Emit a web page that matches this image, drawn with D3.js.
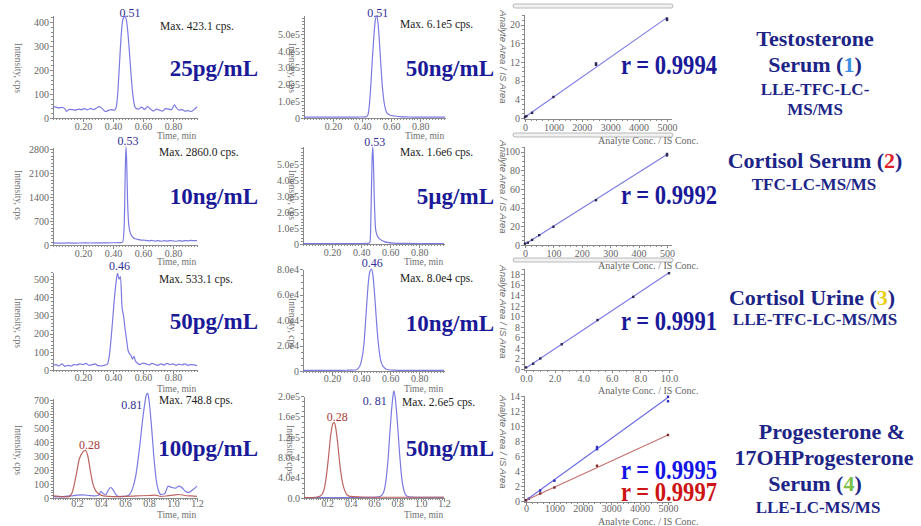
<!DOCTYPE html>
<meta charset="utf-8">
<style>
  body { margin: 0; background: #fff; }
  svg text { font-family: "Liberation Serif", "DejaVu Serif", serif; }
  .axis path, .axis line { stroke: #8a8a8a; fill: none; shape-rendering: crispEdges; }
  .axis text { fill: #666; font-size: 10px; font-family: "Liberation Serif", serif; }
  .lbl { fill: #707070; font-size: 9.5px; }
  .cal-lbl { fill: #666; font-size: 9.5px; font-style: italic; font-family: "Liberation Sans", Arial, sans-serif; }
  .maxl { fill: #222; font-size: 11.5px; }
  .conc { fill: #1a1a99; font-size: 23px; font-weight: bold; }
  .rval { font-size: 27px; font-weight: bold; }
  .right { font-weight: bold; fill: #1c2587; }
</style>
<body>
<script src="https://d3js.org/d3.v7.min.js"></script>
<script>

// ---------- chromatograms: [time (min), intensity (cps)] ----------
var testoLowTrace = [[0,40],[0.01,47],[0.02,45],[0.04,42],[0.06,44],[0.08,38],[0.09,28],[0.11,36],[0.13,35],[0.15,33],[0.17,37],[0.19,35],[0.21,39],[0.23,34],[0.25,40],[0.27,35],[0.29,42],[0.31,47],[0.33,38],[0.35,27],[0.37,32],[0.39,35],[0.41,33],[0.42,42],[0.43,90],[0.44,190],[0.45,300],[0.46,385],[0.47,418],[0.48,423],[0.49,405],[0.50,350],[0.51,270],[0.52,185],[0.53,110],[0.54,62],[0.55,42],[0.57,37],[0.59,45],[0.61,36],[0.63,47],[0.65,37],[0.67,29],[0.69,37],[0.71,33],[0.73,29],[0.75,39],[0.77,37],[0.79,35],[0.81,55],[0.82,45],[0.84,33],[0.86,35],[0.88,29],[0.90,31],[0.92,27],[0.94,35],[0.96,47]];
var testoHighTrace = [[0,5000],[0.1,5000],[0.2,5000],[0.3,5000],[0.4,6000],[0.43,8000],[0.44,20000],[0.45,80000],[0.46,200000],[0.47,350000],[0.48,480000],[0.49,580000],[0.50,610000],[0.51,560000],[0.52,440000],[0.53,300000],[0.54,180000],[0.55,100000],[0.56,55000],[0.57,30000],[0.59,18000],[0.62,12000],[0.66,8000],[0.72,6000],[0.8,5000],[0.9,5000],[0.97,5000]];
var cortSerumLowTrace = [[0,60],[0.05,55],[0.1,60],[0.15,55],[0.2,62],[0.25,58],[0.3,60],[0.35,62],[0.4,65],[0.45,70],[0.465,90],[0.475,600],[0.482,2200],[0.487,2860],[0.492,2300],[0.497,1300],[0.503,700],[0.51,450],[0.52,300],[0.53,240],[0.54,200],[0.56,170],[0.58,150],[0.6,140],[0.62,135],[0.64,120],[0.66,135],[0.68,115],[0.7,130],[0.72,110],[0.74,125],[0.76,115],[0.78,130],[0.8,120],[0.82,110],[0.84,125],[0.86,115],[0.88,130],[0.9,120],[0.92,135],[0.94,125],[0.96,130]];
var cortSerumHighTrace = [[0,3000],[0.2,3000],[0.4,3000],[0.45,4000],[0.46,10000],[0.465,80000],[0.47,300000],[0.475,520000],[0.48,610000],[0.485,500000],[0.49,300000],[0.495,160000],[0.50,90000],[0.51,55000],[0.52,38000],[0.54,24000],[0.56,15000],[0.58,10000],[0.62,6000],[0.7,4000],[0.8,3000],[0.97,3000]];
var cortUrineLowTrace = [[0,25],[0.02,30],[0.04,22],[0.06,34],[0.08,20],[0.1,26],[0.12,22],[0.14,30],[0.16,28],[0.18,34],[0.2,30],[0.22,36],[0.24,26],[0.26,28],[0.28,34],[0.3,24],[0.32,22],[0.34,26],[0.36,30],[0.37,50],[0.38,110],[0.39,200],[0.40,300],[0.41,400],[0.42,480],[0.43,533],[0.44,500],[0.45,515],[0.46,350],[0.47,300],[0.48,230],[0.49,170],[0.50,110],[0.51,90],[0.52,80],[0.53,60],[0.54,75],[0.55,50],[0.56,40],[0.58,30],[0.6,38],[0.62,34],[0.64,28],[0.66,36],[0.68,30],[0.7,26],[0.72,34],[0.74,28],[0.76,36],[0.78,30],[0.8,34],[0.82,26],[0.84,32],[0.86,28],[0.88,34],[0.9,26],[0.92,30],[0.94,28],[0.96,24]];
var cortUrineHighTrace = [[0,500],[0.2,500],[0.3,600],[0.36,800],[0.38,2000],[0.40,7000],[0.42,22000],[0.43,38000],[0.44,55000],[0.45,70000],[0.46,78000],[0.47,80000],[0.48,76000],[0.49,64000],[0.50,48000],[0.51,32000],[0.52,20000],[0.53,11000],[0.54,6000],[0.56,2500],[0.58,1200],[0.62,700],[0.7,500],[0.97,500]];
var progLowTrace = [[0,10],[0.05,8],[0.1,12],[0.15,15],[0.2,20],[0.25,22],[0.3,18],[0.35,15],[0.38,20],[0.4,45],[0.42,30],[0.44,25],[0.46,55],[0.48,75],[0.5,60],[0.52,30],[0.55,10],[0.6,12],[0.63,20],[0.66,60],[0.69,160],[0.72,350],[0.75,580],[0.78,740],[0.79,748],[0.8,700],[0.82,520],[0.84,300],[0.86,130],[0.88,50],[0.9,25],[0.93,30],[0.96,85],[0.99,75],[1.02,70],[1.05,85],[1.08,70],[1.1,50],[1.13,40],[1.16,55],[1.2,85]];
var ohpLowTrace = [[0,15],[0.05,12],[0.1,8],[0.13,10],[0.16,40],[0.19,150],[0.22,280],[0.25,330],[0.27,340],[0.29,300],[0.31,200],[0.33,110],[0.35,60],[0.38,30],[0.42,15],[0.5,10],[0.6,12],[0.7,15],[0.8,18],[0.85,20],[0.9,12],[0.95,15],[1.0,20],[1.05,25],[1.1,18],[1.15,15],[1.2,12]];
var progHighTrace = [[0,1000],[0.2,1000],[0.4,1000],[0.6,1500],[0.65,3000],[0.68,10000],[0.70,30000],[0.72,75000],[0.74,140000],[0.76,195000],[0.77,210000],[0.78,200000],[0.80,150000],[0.82,85000],[0.84,35000],[0.86,12000],[0.88,4000],[0.92,2000],[1.0,1500],[1.2,1500]];
var ohpHighTrace = [[0,1000],[0.1,1500],[0.14,4000],[0.17,15000],[0.19,40000],[0.21,80000],[0.23,125000],[0.25,147000],[0.26,148000],[0.27,140000],[0.29,105000],[0.31,60000],[0.33,30000],[0.35,14000],[0.37,6000],[0.4,3000],[0.5,2000],[0.7,1500],[0.9,1500],[1.2,1500]];

// ---------- calibration: [analyte conc / IS conc, analyte area / IS area] ----------
var testoCalPts = [[0,0.2],[50,0.4],[250,1.1],[1000,4.5],[2500,11.4],[2500,11.7],[5000,21.0],[5000,21.3]];
var testoCalFit = [[0,0.2],[5000,21.5]];
var cortSerumCalPts = [[0,1.5],[10,2.5],[25,5.5],[50,10.5],[100,19.5],[250,48],[500,96],[500,97.5]];
var cortSerumCalFit = [[0,0.8],[500,97]];
var cortUrineCalPts = [[0,0.3],[0.5,1.0],[1,2.0],[2.5,4.7],[5,9.3],[7.5,13.7],[10,18.2]];
var cortUrineCalFit = [[0,0.2],[10,18.3]];
var progCalPts = [[0,0.1],[100,0.3],[500,1.4],[1000,2.7],[2500,6.9],[2500,7.2],[5000,13.3],[5000,13.9]];
var progCalFit = [[0,0.1],[5000,13.8]];
var ohpCalPts = [[0,0.1],[500,1.0],[1000,1.8],[2500,4.7],[5000,8.8]];
var ohpCalFit = [[0,0.1],[5000,8.8]];

// ---------- ticks ----------
var timeTicksA = [0.2,0.4,0.6,0.8];
var timeTicksB = [0.2,0.4,0.6,0.8,1.0,1.2];
var cpsTicksTesto = [0,100,200,300,400];
var cpsTicksCortS = [0,700,1400,2100,2800];
var cpsTicksCortU = [0,100,200,300,400,500];
var cpsTicksProg = [0,100,200,300,400,500,600,700];
var eTicksHigh = [0,1e5,2e5,3e5,4e5,5e5];
var eTicksUrine = [0,2e4,4e4,6e4,8e4];
var eTicksProg = [0,4e4,8e4,1.2e5,1.6e5,2e5];
var calXTicksA = [0,1000,2000,3000,4000,5000];
var calXTicksB = [0,100,200,300,400,500];
var calXTicksC = [0,2,4,6,8,10];
var calYTicksA = [0,4,8,12,16,20];
var calYTicksB = [0,20,40,60,80,100];
var calYTicksC = [0,2,4,6,8,10,12,14,16,18];
var calYTicksD = [0,2,4,6,8,10,12,14];

// ---------- texts ----------
var peakLabels = [["0.51"],["0.51"],["0.53"],["0.53"],["0.46"],["0.46"],["0.81","0.28"],["0. 81","0.28"]];
var maxLabels = ["Max. 423.1 cps.","Max.  6.1e5 cps.","Max. 2860.0 cps.","Max. 1.6e6 cps.","Max. 533.1 cps.","Max.  8.0e4 cps.","Max.  748.8 cps.","Max. 2.6e5 cps."];
var concLabels = ["25pg/mL","50ng/mL","10ng/mL","5\u00b5g/mL","50pg/mL","10ng/mL","100pg/mL","50ng/mL"];
var rLabels = ["r = 0.9994","r = 0.9992","r = 0.9991","r = 0.9995","r = 0.9997"];

var BLUE = "#6b6be0", RED = "#b65350", NAVY = "#1a1a99";

var fmtInt = d3.format("d");
var fmt2 = d3.format(".2f");
var fmt1 = d3.format(".1f");
var fmtE = function(v) { return v === 0 ? "0" : d3.format(".1e")(v).replace("+", ""); };
var fmtE0 = function(v) { return v === 0 ? "0.0" : d3.format(".1e")(v).replace("+", ""); };

var svg = d3.select("body").append("svg").attr("width", 921).attr("height", 526);

// window frame bars of the calibration screenshots
[4, 133, 258].forEach(function(yy) {
  svg.append("rect").attr("x", 513).attr("y", yy).attr("width", 160).attr("height", 4)
    .attr("rx", 2).attr("fill", "#f2f2f2").attr("stroke", "#a8a8a8").attr("stroke-width", 0.8);
});

// panel layouts (positions only)
var chromLayout = [
  {left:53, right:197, base:118, top:15, tDom:[0,0.96], yDom:[0,429], pad:1, lab:[[5,1]], maxXY:[160,30], concXY:[258,76], textY:[139,68], intX:15},
  {left:304, right:445, base:118, top:15, tDom:[0,0.97], yDom:[0,6.15e5], pad:1, lab:[[1,1]], maxXY:[400,28], concXY:[494,76], textY:[139,68], intX:289},
  {left:53, right:197, base:245, top:147, tDom:[0,0.96], yDom:[0,2858], pad:1, lab:[[2,-2]], maxXY:[159,156], concXY:[258,204], textY:[265,195], intX:15},
  {left:303, right:444, base:244, top:146, tDom:[0,0.97], yDom:[0,6.15e5], pad:1, lab:[[2,-1]], maxXY:[400,156], concXY:[494,204], textY:[265,195], intX:289},
  {left:53, right:197, base:370, top:272, tDom:[0,0.96], yDom:[0,540], pad:0, lab:[[2,-3]], maxXY:[159,283], concXY:[258,329], textY:[392,323], intX:15},
  {left:303, right:444, base:371, top:269, tDom:[0,0.97], yDom:[0,8e4], pad:0, lab:[[1,-2]], maxXY:[400,282], concXY:[494,331], textY:[392,323], intX:289},
  {left:53, right:197, base:498, top:398, tDom:[0,1.2], yDom:[0,714], pad:-2, lab:[[-16,16],[4,-1]], maxXY:[159,404], concXY:[258,456], textY:[518,450], intX:15},
  {left:304, right:444, base:498, top:396, tDom:[0,1.2], yDom:[0,2e5], pad:-2, lab:[[-19,14],[3,-2]], maxXY:[402,406], concXY:[494,456], textY:[518,450], intX:287}
];
var chromData = [
  {traces:[[testoLowTrace,BLUE]], xt:timeTicksA, xf:fmt2, yt:cpsTicksTesto, yf:fmtInt},
  {traces:[[testoHighTrace,BLUE]], xt:timeTicksA, xf:fmt2, yt:eTicksHigh, yf:fmtE},
  {traces:[[cortSerumLowTrace,BLUE]], xt:timeTicksA, xf:fmt2, yt:cpsTicksCortS, yf:fmtInt},
  {traces:[[cortSerumHighTrace,BLUE]], xt:timeTicksA, xf:fmt2, yt:eTicksHigh, yf:fmtE},
  {traces:[[cortUrineLowTrace,BLUE]], xt:timeTicksA, xf:fmt2, yt:cpsTicksCortU, yf:fmtInt},
  {traces:[[cortUrineHighTrace,BLUE]], xt:timeTicksA, xf:fmt2, yt:eTicksUrine, yf:fmtE},
  {traces:[[progLowTrace,BLUE],[ohpLowTrace,RED]], xt:timeTicksB, xf:fmt1, yt:cpsTicksProg, yf:fmtInt},
  {traces:[[progHighTrace,BLUE],[ohpHighTrace,RED]], xt:timeTicksB, xf:fmt1, yt:eTicksProg, yf:fmtE0}
];

chromLayout.forEach(function(p, i) {
  var d = chromData[i];
  var x = d3.scaleLinear().domain(p.tDom).range([p.left, p.right]);
  var y = d3.scaleLinear().domain(p.yDom).range([p.base, p.top]);
  var g = svg.append("g");

  g.append("g").attr("class", "axis").attr("transform", "translate(0," + p.base + ")")
    .call(d3.axisBottom(x).tickValues(x.ticks(48)).tickSize(2).tickFormat("").tickSizeOuter(0));
  g.append("g").attr("class", "axis").attr("transform", "translate(0," + p.base + ")")
    .call(d3.axisBottom(x).tickValues(d.xt).tickSize(4).tickPadding(p.pad).tickFormat(d.xf).tickSizeOuter(0));
  g.append("g").attr("class", "axis").attr("transform", "translate(" + p.left + ",0)")
    .call(d3.axisLeft(y).ticks(25).tickSize(2).tickFormat("").tickSizeOuter(0));
  g.append("g").attr("class", "axis").attr("transform", "translate(" + p.left + ",0)")
    .call(d3.axisLeft(y).tickValues(d.yt).tickSize(3).tickPadding(1).tickFormat(d.yf).tickSizeOuter(0));

  var line = d3.line().x(function(v) { return x(v[0]); }).y(function(v) { return y(v[1]); })
    .curve(d3.curveMonotoneX);
  d.traces.forEach(function(tr, k) {
    g.append("path").datum(tr[0]).attr("d", line).attr("fill", "none")
      .attr("stroke", tr[1]).attr("stroke-width", 1.2).attr("stroke-opacity", 0.9);
    var pk = tr[0].reduce(function(a, b) { return b[1] > a[1] ? b : a; });
    g.append("text").attr("x", x(pk[0]) + p.lab[k][0]).attr("y", y(pk[1]) + p.lab[k][1])
      .attr("text-anchor", "middle").attr("font-size", "12px")
      .attr("fill", tr[1] === RED ? "#a83a36" : "#2f2f95").text(peakLabels[i][k]);
  });

  g.append("text").attr("class", "lbl").attr("x", p.right - 40).attr("y", p.textY[0]).text("Time, min");
  g.append("text").attr("class", "lbl").attr("text-anchor", "middle")
    .attr("transform", "translate(" + p.intX + "," + p.textY[1] + ") rotate(90)").text("Intensity, cps");
  g.append("text").attr("class", "maxl").attr("x", p.maxXY[0]).attr("y", p.maxXY[1]).text(maxLabels[i]);
  g.append("text").attr("class", "conc").attr("text-anchor", "end")
    .attr("x", p.concXY[0]).attr("y", p.concXY[1]).text(concLabels[i]);
});

// calibration panels
var calLayout = [
  {left:524, xr:[525,667], right:672, base:119, top:15, yDom:[0,22], yr:[118,15.3], pad:2, labY:141, areaY:57},
  {left:524, xr:[525,667], right:672, base:245, top:147, yDom:[0,105], yr:[245,147], pad:2, labY:266, areaY:187},
  {left:524, xr:[526,669], right:673, base:370, top:269, yDom:[0,19], yr:[369,269], pad:2, labY:391, areaY:312},
  {left:524, xr:[526,668], right:672, base:502, top:396, yDom:[0,14], yr:[501,396], pad:0, labY:522, areaY:442}
];
var calData = [
  {xDom:[0,5000], xt:calXTicksA, xf:fmtInt, yt:calYTicksA, sets:[[testoCalPts,testoCalFit,"#7b7be3","#2a2a55"]]},
  {xDom:[0,500], xt:calXTicksB, xf:fmtInt, yt:calYTicksB, sets:[[cortSerumCalPts,cortSerumCalFit,"#7b7be3","#2a2a55"]]},
  {xDom:[0,10], xt:calXTicksC, xf:fmt1, yt:calYTicksC, sets:[[cortUrineCalPts,cortUrineCalFit,"#7b7be3","#2a2a55"]]},
  {xDom:[0,5000], xt:calXTicksA, xf:fmtInt, yt:calYTicksD, sets:[[progCalPts,progCalFit,"#6a6ae6","#3030c0"],[ohpCalPts,ohpCalFit,"#c47070","#7a2a2a"]]}
];

calLayout.forEach(function(p, i) {
  var d = calData[i];
  var x = d3.scaleLinear().domain(d.xDom).range(p.xr);
  var y = d3.scaleLinear().domain(p.yDom).range(p.yr);
  var g = svg.append("g");
  g.append("line").attr("x1", p.left).attr("x2", p.right).attr("y1", p.base + 0.5).attr("y2", p.base + 0.5)
    .attr("stroke", "#8a8a8a");
  g.append("line").attr("x1", p.left + 0.5).attr("x2", p.left + 0.5).attr("y1", p.base).attr("y2", p.top)
    .attr("stroke", "#8a8a8a");
  g.append("g").attr("class", "axis").attr("transform", "translate(0," + p.base + ")")
    .call(d3.axisBottom(x).tickValues(x.ticks(25)).tickSize(2).tickFormat("").tickSizeOuter(0))
    .select(".domain").remove();
  g.append("g").attr("class", "axis").attr("transform", "translate(0," + p.base + ")")
    .call(d3.axisBottom(x).tickValues(d.xt).tickSize(3).tickPadding(p.pad).tickFormat(d.xf).tickSizeOuter(0))
    .select(".domain").remove();
  g.append("g").attr("class", "axis").attr("transform", "translate(" + p.left + ",0)")
    .call(d3.axisLeft(y).tickValues(y.ticks(25)).tickSize(2).tickFormat("").tickSizeOuter(0))
    .select(".domain").remove();
  g.append("g").attr("class", "axis").attr("transform", "translate(" + p.left + ",0)")
    .call(d3.axisLeft(y).tickValues(d.yt).tickSize(3).tickPadding(1).tickFormat(fmtInt).tickSizeOuter(0))
    .select(".domain").remove();

  d.sets.forEach(function(s) {
    g.append("path").datum(s[1])
      .attr("d", d3.line().x(function(v) { return x(v[0]); }).y(function(v) { return y(v[1]); }))
      .attr("stroke", s[2]).attr("stroke-width", 1.1).attr("fill", "none");
    g.selectAll(null).data(s[0]).enter().append("rect")
      .attr("x", function(v) { return x(v[0]) - 1.2; }).attr("y", function(v) { return y(v[1]) - 1.2; })
      .attr("width", 2.4).attr("height", 2.4).attr("fill", s[3]);
  });

  g.append("text").attr("class", "cal-lbl").attr("text-anchor", "middle")
    .attr("transform", "translate(500," + p.areaY + ") rotate(90)").text("Analyte Area / IS Area");
  g.append("text").attr("x", 598).attr("y", p.labY + 3).attr("font-size", "10px").attr("fill", "#666")
    .text("Analyte Conc. / IS Conc.");
});

// correlation coefficients
var rLayout = [[65, NAVY], [195, NAVY], [321, NAVY], [470, "#1414e6"], [492, "#cc1414"]];
rLayout.forEach(function(r, i) {
  svg.append("text").attr("class", "rval").attr("x", 621).attr("y", r[0] + 9)
    .attr("fill", r[1]).attr("textLength", 96).attr("lengthAdjust", "spacingAndGlyphs").text(rLabels[i]);
});

// method descriptions on the right
var rightLines = [
  [38, 22, 815, [["Testosterone"]]],
  [64, 22, 815, [["Serum ("], ["1", "#3d8fe3"], [")"]]],
  [89, 17, 815, [["LLE-TFC-LC-"]]],
  [109, 17, 815, [["MS/MS"]]],
  [160, 22, 815, [["Cortisol Serum ("], ["2", "#e0202a"], [")"]]],
  [184, 17, 814, [["TFC-LC-MS/MS"]]],
  [297, 22, 812, [["Cortisol Urine ("], ["3", "#e8cf1c"], [")"]]],
  [319, 17, 815, [["LLE-TFC-LC-MS/MS"]]],
  [431, 22, 832, [["Progesterone &"]]],
  [457, 22, 824, [["17OHProgesterone"]]],
  [483, 22, 815, [["Serum ("], ["4", "#7cc04c"], [")"]]],
  [507, 17, 818, [["LLE-LC-MS/MS"]]]
];
rightLines.forEach(function(l) {
  var t = svg.append("text").attr("class", "right").attr("text-anchor", "middle")
    .attr("x", l[2]).attr("y", l[0] + l[1] * 0.35).attr("font-size", l[1] + "px");
  l[3].forEach(function(seg) {
    t.append("tspan").attr("fill", seg[1] || "#1c2587").text(seg[0]);
  });
});

</script>
</body>
